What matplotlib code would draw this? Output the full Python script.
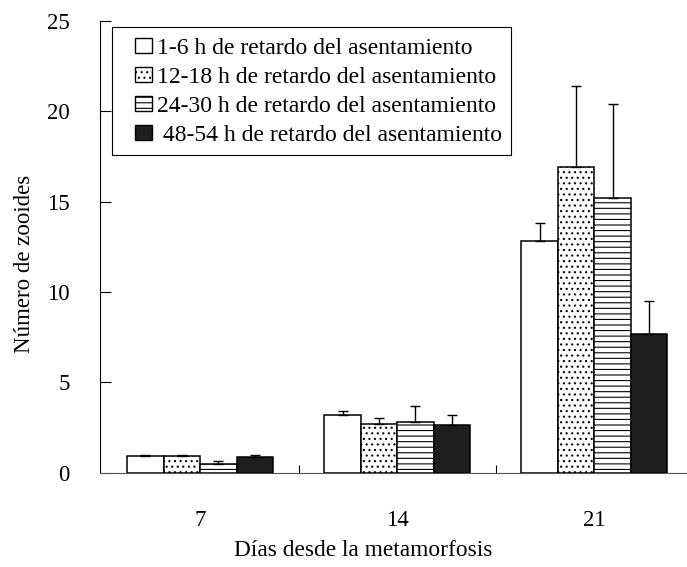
import numpy as np
import matplotlib
matplotlib.use('Agg')
import matplotlib.pyplot as plt
from matplotlib.patches import Patch, Rectangle
from matplotlib.legend_handler import HandlerPatch

plt.rcParams['font.family'] = ['Liberation Serif', 'DejaVu Serif']
plt.rcParams['hatch.linewidth'] = 0.8

### data
days = ['7', '14', '21']
labels = ['1-6 h de retardo del asentamiento',
          '12-18 h de retardo del asentamiento',
          '24-30 h de retardo del asentamiento',
          ' 48-54 h de retardo del asentamiento']
mean_1_6 = [0.94, 3.19, 12.83]
mean_12_18 = [0.94, 2.71, 16.91]
mean_24_30 = [0.48, 2.84, 15.19]
mean_48_54 = [0.87, 2.64, 7.69]
err_1_6 = [0.06, 0.24, 0.98]
err_12_18 = [0.06, 0.31, 4.51]
err_24_30 = [0.20, 0.86, 5.22]
err_48_54 = [0.13, 0.56, 1.84]

means = [mean_1_6, mean_12_18, mean_24_30, mean_48_54]
errs = [err_1_6, err_12_18, err_24_30, err_48_54]
faces = ['white', 'white', 'white', '#1e1e1e']
hatches = [None, '...', '---', None]

fig = plt.figure(figsize=(6.87, 5.67), dpi=100)
ax = fig.add_axes([0.1456, 0.166, 0.8544, 0.797])

x = np.arange(len(days))
w = 0.185
handles = []
for i in range(4):
    pos = x + (i - 1.5) * w
    ax.bar(pos, means[i], w, color=faces[i], edgecolor='black', linewidth=1.1,
           hatch=hatches[i], zorder=2)
    ax.errorbar(pos, means[i], yerr=[np.zeros(3), errs[i]], fmt='none',
                ecolor='black', elinewidth=1.0, capsize=3.5, capthick=1.0, zorder=3)
    handles.append(Patch(facecolor=faces[i], edgecolor='black', linewidth=1.0,
                         hatch=hatches[i], label=labels[i]))

ax.set_xlim(-0.508, 2.47)
ax.set_ylim(0, 25)
ax.set_yticks(np.arange(0, 26, 5))
ax.set_xticks(x)
ax.set_xticklabels(days)
ax.set_xticks([0.5, 1.5], minor=True)
ax.tick_params(axis='x', which='major', length=0, pad=27, labelsize=16.5)
ax.tick_params(axis='x', which='minor', direction='in', length=6, width=0.8)
ax.tick_params(axis='y', direction='in', length=8, width=0.8, pad=22, labelsize=16.5)

for s in ['top', 'right']:
    ax.spines[s].set_visible(False)
ax.spines['left'].set_linewidth(0.8)
ax.spines['bottom'].set_linewidth(0.8)
ax.spines['bottom'].set_color('#555555')

ax.set_xlabel('Días desde la metamorfosis', fontsize=16.8)
ax.xaxis.set_label_coords(0.448, -0.148)
ax.set_ylabel('Número de zooides', fontsize=16.5)
ax.yaxis.set_label_coords(-0.11, 0.462)


### small square handle pushed to the right of the handle box
def square_handle(legend, orig_handle, xdescent, ydescent, width, height, fontsize):
    sw, sh = 12.2, 10.8
    return Rectangle((-xdescent + width - sw, -ydescent + (height - sh) / 2.), sw, sh)


leg = ax.legend(handles=handles, loc='upper left', bbox_to_anchor=(0.02, 0.986),
                borderaxespad=0, fancybox=False, framealpha=1, edgecolor='black',
                fontsize=17, handlelength=1.3, handleheight=0.75, handletextpad=0.2,
                labelspacing=0.3, borderpad=0.4,
                handler_map={Patch: HandlerPatch(patch_func=square_handle)})
leg.get_frame().set_linewidth(0.8)

fig.savefig('out.png', dpi=100)
